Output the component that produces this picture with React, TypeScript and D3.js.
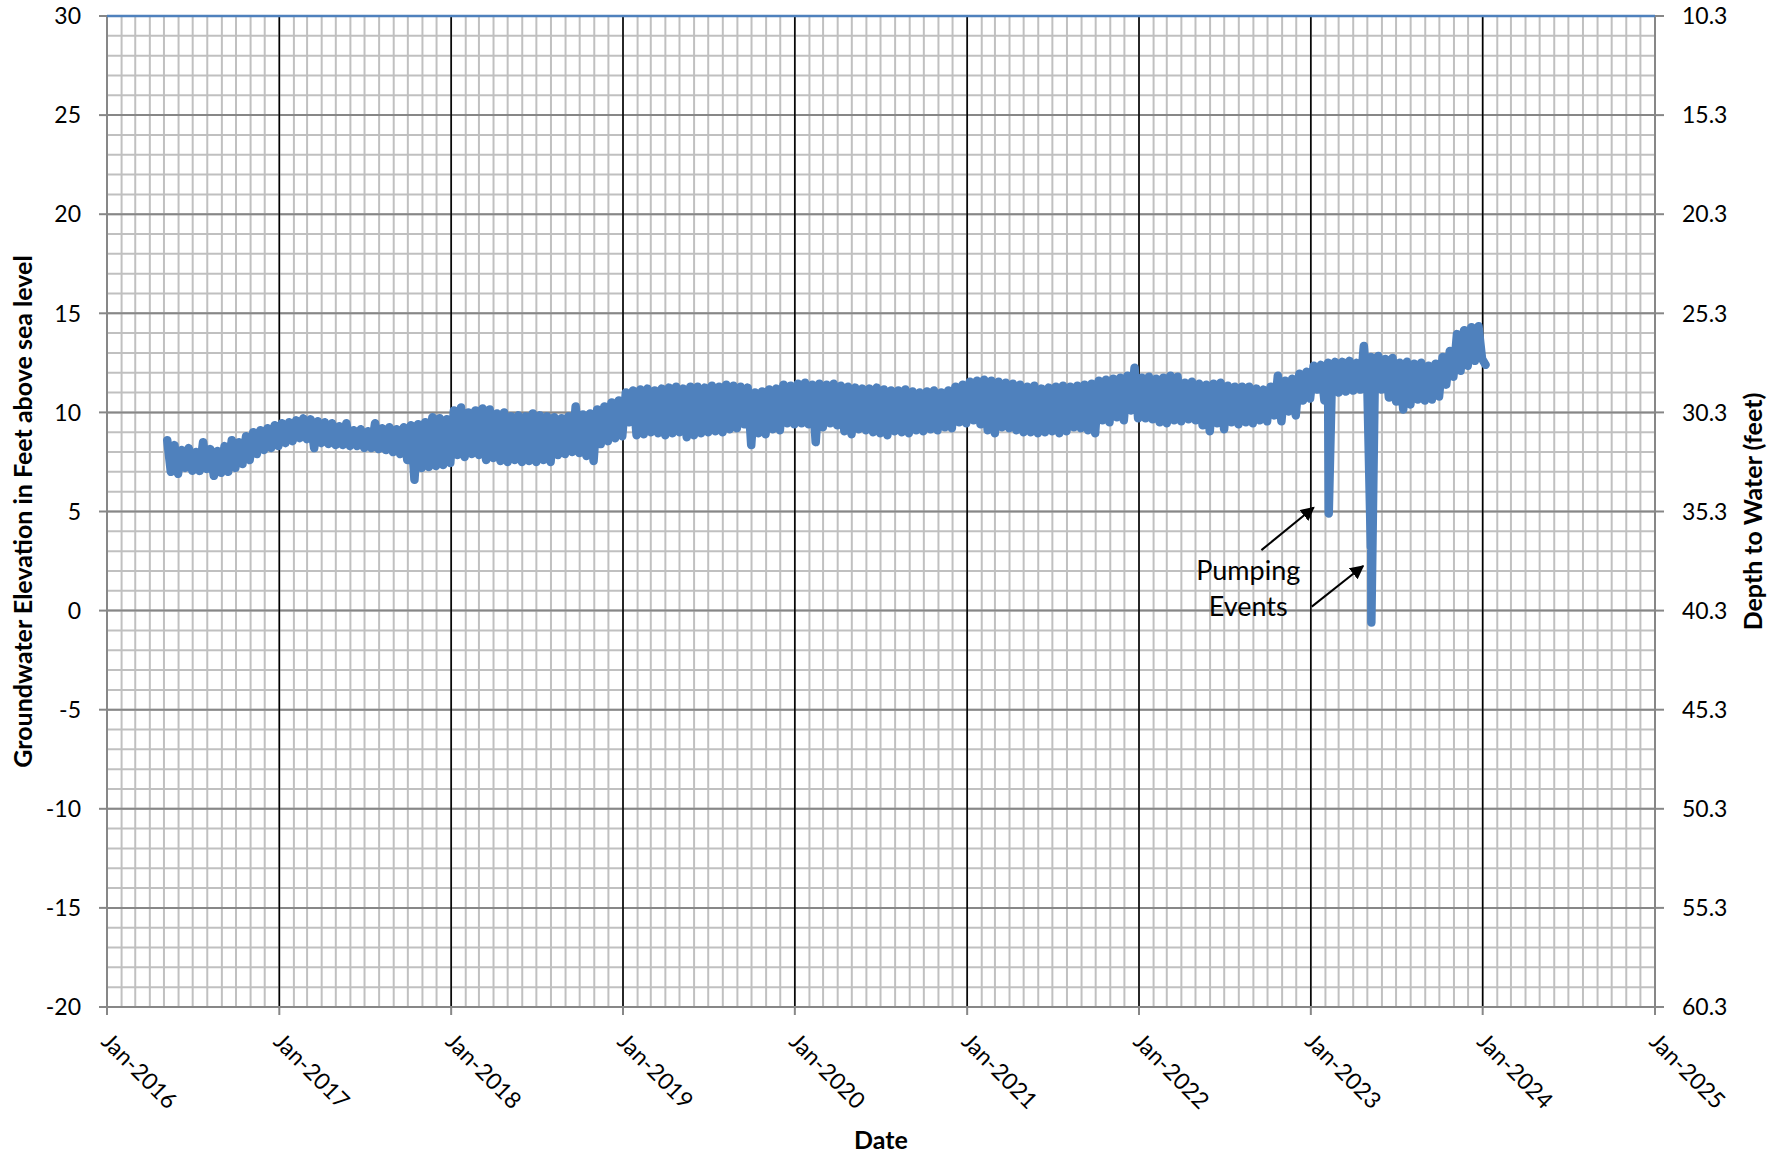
import React, { useEffect } from 'react';
import * as d3 from 'd3';

// ---------- axis definitions ----------
const xStart = new Date(2016, 0, 1);
const xEnd = new Date(2025, 0, 1);
const xTickYears = [2016, 2017, 2018, 2019, 2020, 2021, 2022, 2023, 2024, 2025];
const xTickLabels = ['Jan-2016', 'Jan-2017', 'Jan-2018', 'Jan-2019', 'Jan-2020', 'Jan-2021', 'Jan-2022', 'Jan-2023', 'Jan-2024', 'Jan-2025'];
const leftTicks = [30, 25, 20, 15, 10, 5, 0, -5, -10, -15, -20];
const rightTicks = [10.3, 15.3, 20.3, 25.3, 30.3, 35.3, 40.3, 45.3, 50.3, 55.3, 60.3];
const depthReference = 40.3; // depth to water = 40.3 - elevation

// ---------- series: groundwater elevation, ~weekly readings (4 per month) ----------
const seriesStart = new Date(2016, 4, 8);
const stepDays = 365.25 / 48;

const elev2016 = [
  8.6, 7.0, 8.35, 6.9,   8.1, 7.2, 8.2, 7.05,   8.0, 7.05, 8.5, 7.15,   8.15, 6.8, 8.05, 6.95,
  8.3, 7.0, 8.6, 7.2,    8.5, 7.4, 8.8, 7.6,    9.0, 7.9, 9.1, 8.1,     9.2, 8.2, 9.35, 8.3,
];
const elev2017 = [
  9.45, 8.45, 9.5, 8.55,  9.6, 8.7, 9.7, 8.65,   9.65, 8.2, 9.55, 8.45,  9.5, 8.4, 9.45, 8.35,
  9.3, 8.35, 9.45, 8.3,   9.1, 8.3, 9.15, 8.2,   9.05, 8.2, 9.45, 8.15,  9.2, 8.1, 9.25, 8.0,
  9.15, 7.9, 9.25, 7.6,   9.35, 6.6, 9.4, 7.2,   9.5, 7.25, 9.75, 7.3,   9.7, 7.35, 9.65, 7.45,
];
const elev2018 = [
  10.1, 7.85, 10.25, 7.75,  10.0, 7.9, 10.1, 7.85,  10.2, 7.6, 10.15, 7.7,  9.95, 7.55, 10.0, 7.5,
  9.8, 7.6, 9.85, 7.5,      9.8, 7.55, 9.95, 7.5,   9.85, 7.6, 9.8, 7.5,    9.75, 7.85, 9.7, 7.9,
  9.8, 8.0, 10.3, 7.95,     9.9, 7.8, 9.95, 7.55,   10.15, 8.4, 10.3, 8.55, 10.5, 8.7, 10.6, 8.8,
];
const elev2019 = [
  11.0, 9.5, 11.1, 8.85,   11.15, 8.9, 11.2, 9.0,   11.1, 8.95, 11.2, 8.85,  11.25, 8.95, 11.3, 9.0,
  11.2, 8.75, 11.3, 8.85,  11.3, 8.95, 11.25, 9.0,  11.35, 9.05, 11.3, 9.0,  11.4, 9.15, 11.35, 9.2,
  11.3, 9.4, 11.25, 8.35,  11.0, 8.95, 11.05, 8.9,  11.15, 9.15, 11.2, 9.1,  11.4, 9.45, 11.35, 9.4,
];
const elev2020 = [
  11.45, 9.45, 11.5, 9.4,  11.4, 8.5, 11.45, 9.25,  11.4, 9.45, 11.45, 9.35, 11.35, 9.05, 11.3, 8.9,
  11.25, 9.15, 11.2, 9.1,  11.2, 9.0, 11.25, 8.95,  11.15, 8.85, 11.1, 9.05, 11.1, 9.0, 11.15, 8.95,
  11.05, 9.1, 11.0, 9.05,  11.05, 9.15, 11.1, 9.1,  11.0, 9.25, 11.1, 9.2,   11.3, 9.5, 11.4, 9.45,
];
const elev2021 = [
  11.55, 9.6, 11.6, 9.4,   11.65, 9.1, 11.6, 8.95,  11.55, 9.25, 11.5, 9.2,  11.45, 9.1, 11.4, 9.0,
  11.3, 9.0, 11.35, 8.95,  11.2, 9.0, 11.25, 9.05,  11.3, 8.95, 11.35, 9.05, 11.3, 9.25, 11.35, 9.2,
  11.4, 9.1, 11.45, 8.95,  11.6, 9.6, 11.65, 9.5,   11.7, 9.75, 11.75, 9.6,  11.85, 10.1, 12.25, 9.7,
];
const elev2022 = [
  11.75, 9.7, 11.8, 9.65,  11.7, 9.5, 11.75, 9.45,  11.85, 9.6, 11.8, 9.55,  11.5, 9.65, 11.55, 9.6,
  11.45, 9.35, 11.4, 9.05, 11.45, 9.45, 11.5, 9.15, 11.35, 9.5, 11.3, 9.4,   11.3, 9.5, 11.3, 9.45,
  11.2, 9.6, 11.15, 9.55,  11.3, 9.85, 11.85, 9.55, 11.6, 10.05, 11.7, 9.85, 11.95, 10.6, 12.05, 10.7,
];
const elev2023 = [
  12.35, 11.15, 12.4, 10.6,  12.5, 11.05, 12.55, 11.0,  12.55, 11.05, 12.6, 11.1,  12.5, 11.15, 13.35, 11.2,
  12.8, 10.95, 12.85, 11.15, 12.7, 10.75, 12.75, 10.55, 12.5, 10.15, 12.55, 10.4,  12.45, 10.65, 12.5, 10.6,
  12.35, 10.65, 12.45, 10.8, 12.8, 11.4, 13.1, 11.8,    13.95, 12.1, 14.15, 12.35, 14.3, 12.6, 14.35, 12.7,
];
const elev2024 = [12.4];

// pumping events (short drawdowns)
const pumpDates = [new Date(2023, 1, 8), new Date(2023, 4, 8, 12), new Date(2023, 4, 9), new Date(2023, 4, 9, 12)];
const pumpValues = [4.9, 3.2, 12.0, -0.6];

// annotation anchors (date, elevation)
const annotationLines = ['Pumping', 'Events'];
const annotationDate = new Date(2022, 7, 21);
const annotationValues = [1.55, -0.25];
const arrowTails = [{ d: new Date(2022, 8, 18), v: 3.05 }, { d: new Date(2023, 0, 3), v: 0.2 }];
const arrowTips = [{ d: new Date(2023, 0, 7), v: 5.2 }, { d: new Date(2023, 3, 22), v: 2.25 }];

// ---------- layout ----------
const W = 1784;
const H = 1158;
const plot = { left: 107, right: 1655, top: 16, bottom: 1007 };
const FONT = 'Lato, "Noto Sans", sans-serif';
const LINE_COLOR = '#4f81bd';

type Pt = { date: Date; value: number };

export default function App() {
  useEffect(() => {
    document.body.style.margin = '0';
  }, []);

  const x = d3.scaleTime().domain([xStart, xEnd]).range([plot.left, plot.right]);
  const y = d3.scaleLinear().domain([-20, 30]).range([plot.bottom, plot.top]);
  const yRight = d3.scaleLinear().domain([depthReference + 20, depthReference - 30]).range([plot.bottom, plot.top]);

  const weekly = [...elev2016, ...elev2017, ...elev2018, ...elev2019, ...elev2020, ...elev2021, ...elev2022, ...elev2023, ...elev2024];
  const pts: Pt[] = weekly.map((v, i) => ({
    date: new Date(seriesStart.getTime() + i * stepDays * 86400000),
    value: v,
  }));
  pumpDates.forEach((d, i) => pts.push({ date: d, value: pumpValues[i] }));
  pts.sort((a, b) => a.date.getTime() - b.date.getTime());

  const line = d3
    .line<Pt>()
    .x((d) => x(d.date))
    .y((d) => y(d.value));

  const months = d3.timeMonth.range(xStart, d3.timeDay.offset(xEnd, 1));
  const minorY = d3.range(-20, 31, 1);
  const majorY = leftTicks;

  return (
    <svg width={W} height={H} style={{ position: 'absolute', left: 0, top: 0, display: 'block', background: '#fff' }}>
      <defs>
        <marker id="arrow" viewBox="0 0 10 10" refX="9" refY="5" markerWidth="7" markerHeight="7" orient="auto" markerUnits="strokeWidth">
          <path d="M0,0 L10,5 L0,10 z" fill="#000" />
        </marker>
      </defs>
      <rect x={0} y={0} width={W} height={H} fill="#fff" />

      {/* minor gridlines */}
      <g stroke="#c0c0c0" strokeWidth={2}>
        {months.map((m, i) => (
          <line key={'mv' + i} x1={x(m)} x2={x(m)} y1={plot.top} y2={plot.bottom} />
        ))}
        {minorY.map((v) => (
          <line key={'mh' + v} x1={plot.left} x2={plot.right} y1={y(v)} y2={y(v)} />
        ))}
      </g>
      {/* major horizontal gridlines */}
      <g stroke="#878787" strokeWidth={2}>
        {majorY.map((v) => (
          <line key={'Mh' + v} x1={plot.left} x2={plot.right} y1={y(v)} y2={y(v)} />
        ))}
      </g>
      {/* major vertical gridlines (years) */}
      <g stroke="#000" strokeWidth={1.6}>
        {xTickYears.slice(1, -1).map((yr) => (
          <line key={'Mv' + yr} x1={x(new Date(yr, 0, 1))} x2={x(new Date(yr, 0, 1))} y1={plot.top} y2={plot.bottom} />
        ))}
      </g>

      {/* axes */}
      <g stroke="#878787" strokeWidth={2} fill="none">
        <line x1={plot.left} x2={plot.left} y1={plot.top} y2={plot.bottom} />
        <line x1={plot.right} x2={plot.right} y1={plot.top} y2={plot.bottom + 8} />
        <line x1={plot.left} x2={plot.right} y1={plot.bottom} y2={plot.bottom} />
        {leftTicks.map((v) => (
          <line key={'lt' + v} x1={plot.left - 8} x2={plot.left} y1={y(v)} y2={y(v)} />
        ))}
        {rightTicks.map((v) => (
          <line key={'rt' + v} x1={plot.right} x2={plot.right + 9} y1={yRight(v)} y2={yRight(v)} />
        ))}
        {xTickYears.map((yr) => (
          <line key={'bt' + yr} x1={x(new Date(yr, 0, 1))} x2={x(new Date(yr, 0, 1))} y1={plot.bottom} y2={plot.bottom + 8} />
        ))}
      </g>
      <line x1={plot.left} x2={plot.right} y1={y(30)} y2={y(30)} stroke={LINE_COLOR} strokeWidth={2.5} />

      {/* data */}
      <path d={line(pts) || ''} fill="none" stroke={LINE_COLOR} strokeWidth={8.5} strokeLinejoin="round" strokeLinecap="round" />

      {/* tick labels */}
      <g fontFamily={FONT} fontSize={23} fill="#000">
        {leftTicks.map((v) => (
          <text key={'ll' + v} x={plot.left - 26} y={y(v)} dy="0.36em" textAnchor="end">
            {v}
          </text>
        ))}
        {rightTicks.map((v) => (
          <text key={'rl' + v} x={plot.right + 27} y={yRight(v)} dy="0.36em" textAnchor="start">
            {v.toFixed(1)}
          </text>
        ))}
        {xTickYears.map((yr, i) => {
          const px = x(new Date(yr, 0, 1));
          return (
            <text key={'xl' + yr} transform={`translate(${px - 7},${plot.bottom + 36}) rotate(45)`} textAnchor="start">
              {xTickLabels[i]}
            </text>
          );
        })}
      </g>

      {/* axis titles */}
      <g fontFamily={FONT} fontSize={25} fontWeight="bold" fill="#000">
        <text transform={`translate(32,${(plot.top + plot.bottom) / 2}) rotate(-90)`} textAnchor="middle">
          Groundwater Elevation in Feet above sea level
        </text>
        <text transform={`translate(1762,${(plot.top + plot.bottom) / 2}) rotate(-90)`} textAnchor="middle">
          Depth to Water (feet)
        </text>
        <text x={(plot.left + plot.right) / 2} y={1149} textAnchor="middle">
          Date
        </text>
      </g>

      {/* annotation */}
      <g fontFamily={FONT} fontSize={27} fill="#000">
        {annotationLines.map((t, i) => (
          <text key={t} x={x(annotationDate)} y={y(annotationValues[i])} textAnchor="middle">
            {t}
          </text>
        ))}
      </g>
      <g stroke="#000" strokeWidth={2}>
        {arrowTails.map((t, i) => (
          <line key={'ar' + i} x1={x(t.d)} y1={y(t.v)} x2={x(arrowTips[i].d)} y2={y(arrowTips[i].v)} markerEnd="url(#arrow)" />
        ))}
      </g>
    </svg>
  );
}
